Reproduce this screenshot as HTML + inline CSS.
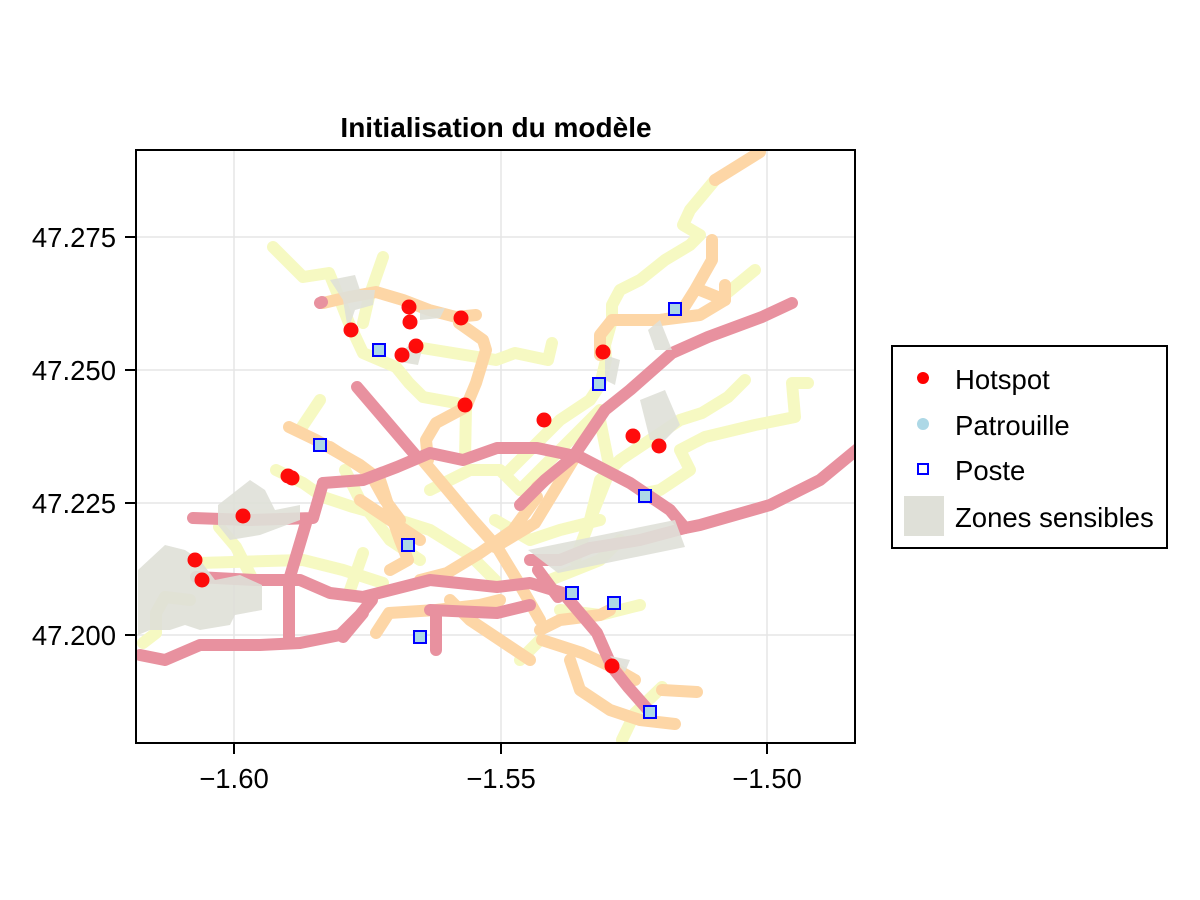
<!DOCTYPE html>
<html><head><meta charset="utf-8"><style>html,body{margin:0;padding:0;background:#fff}svg{display:block}</style></head>
<body>
<svg width="1200" height="900" viewBox="0 0 1200 900" xmlns="http://www.w3.org/2000/svg" font-family="Liberation Sans, sans-serif">
<rect width="1200" height="900" fill="#fff"/>
<text x="496" y="137" text-anchor="middle" font-size="28" font-weight="bold">Initialisation du modèle</text>
<defs><clipPath id="c"><rect x="136" y="150" width="719" height="593"/></clipPath></defs>
<g stroke="#e5e5e5" stroke-width="1.5">
<line x1="234" y1="150" x2="234" y2="743"/><line x1="501" y1="150" x2="501" y2="743"/><line x1="767" y1="150" x2="767" y2="743"/>
<line x1="136" y1="237" x2="855" y2="237"/><line x1="136" y1="370" x2="855" y2="370"/><line x1="136" y1="503" x2="855" y2="503"/><line x1="136" y1="635" x2="855" y2="635"/>
</g>
<g clip-path="url(#c)" fill="none" stroke-linecap="round" stroke-linejoin="round" stroke-width="12">
<g stroke="#f6f9c2">
<polyline points="715,180 690,210 683,225 700,235 690,245 665,260 640,280 620,290 612,305 612,320 605,345 606,360 600,385 590,400 560,420 540,440 510,470"/>
<polyline points="273,247 303,277 329,273 336,290 349,323 363,353 396,367 409,383 423,397 456,403 466,407 465,460"/>
<polyline points="383,257 376,277 369,297 363,323"/>
<polyline points="416,347 496,360 515,353 548,360 552,343"/>
<polyline points="808,383 792,383 795,417 755,425 705,437 680,450 690,470 660,490 645,493"/>
<polyline points="745,380 728,397 702,413 680,420 650,440 620,460 600,480 590,520"/>
<polyline points="727,293 755,270"/>
<polyline points="276,470 303,483 323,497 353,507 389,517 430,530 470,555 495,580"/>
<polyline points="199,563 303,560 343,570 383,583"/>
<polyline points="363,553 349,593"/>
<polyline points="143,643 156,633 156,613 165,597 190,600"/>
<polyline points="219,527 236,547 253,580"/>
<polyline points="345,470 360,500 390,540 420,560"/>
<polyline points="520,490 570,440 600,410"/>
<polyline points="600,420 610,470 590,520 575,560"/>
<polyline points="430,490 470,470 500,470 520,490"/>
<polyline points="495,520 530,540 560,530 600,520"/>
<polyline points="622,740 635,713 662,687"/>
<polyline points="560,610 600,615 640,605"/>
<polyline points="550,580 600,560 620,540"/>
<polyline points="520,660 540,640"/>
<polyline points="300,430 320,400"/>
</g>
<g stroke="#fdd6a6">
<polyline points="760,152 715,180"/>
<polyline points="712,240 712,260 695,290 678,317 660,320 620,320 612,320 600,335 600,355"/>
<polyline points="660,320 700,315 725,300 725,285"/>
<polyline points="700,290 725,300"/>
<polyline points="323,303 349,297 376,292 403,300 429,310 456,317 476,315"/>
<polyline points="459,323 483,340 486,350 476,383 466,407 436,423 426,440 428,460"/>
<polyline points="289,427 316,440 360,465 380,480 393,520 400,540 408,560 390,570"/>
<polyline points="330,447 370,473 385,500 400,520"/>
<polyline points="420,457 473,520 497,547 517,580 540,620"/>
<polyline points="537,497 513,530 480,553 447,573 420,580"/>
<polyline points="573,457 537,487"/>
<polyline points="376,633 389,613 436,610 480,605 500,600"/>
<polyline points="542,640 582,653 612,667 635,680"/>
<polyline points="570,660 580,690 610,710 640,720 675,724"/>
<polyline points="662,690 697,692"/>
<polyline points="540,630 560,620 600,615 610,610"/>
<polyline points="360,500 390,520 420,540"/>
<polyline points="450,600 470,620 500,640 530,660"/>
<polyline points="495,547 535,523 575,457"/>
</g>
<g stroke="#e8919f">
<polyline points="140,655 165,660 200,645 260,645 300,643 340,635 360,615 372,600"/>
<polyline points="306,523 289,580 289,637"/>
<polyline points="193,518 250,520 313,518 323,483"/>
<polyline points="323,483 363,480 397,467 430,453 463,460 497,448 537,448 580,457 630,483 670,510 685,528 700,525 770,505 820,480 860,447"/>
<polyline points="357,387 417,457"/>
<polyline points="196,577 255,580 300,580 330,593 363,597 430,580 497,587 530,583 563,593 597,633 612,667 628,687 650,712"/>
<polyline points="538,570 558,597"/>
<polyline points="430,610 497,613 530,605"/>
<polyline points="363,613 343,637"/>
<polyline points="436,615 436,650"/>
<polyline points="792,303 762,317 708,337 672,353 630,390 605,410 573,457 545,480 520,505"/>
<polyline points="530,560 560,560 590,548 640,540 685,528"/>
<polyline points="320,303 322,302"/>
</g>
<g fill="#dfe0d8" stroke="none" opacity="0.9">
<polygon points="138,570 165,545 185,550 200,560 215,580 240,575 262,585 262,610 235,615 230,625 200,630 185,625 170,630 150,630 138,635"/>
<polygon points="218,505 250,480 265,490 275,510 300,505 300,520 260,535 230,540 218,525"/>
<polygon points="330,280 355,275 360,290 375,290 373,305 355,310 348,330 343,300"/>
<polygon points="420,310 445,308 440,318 420,320"/>
<polygon points="396,355 410,345 422,350 418,365 400,362"/>
<polygon points="640,400 665,390 680,425 665,440 650,440"/>
<polygon points="648,330 660,320 672,350 655,350"/>
<polygon points="528,550 675,520 685,547 558,573"/>
<polygon points="605,355 620,360 615,385 605,380"/>
<polygon points="610,656 630,660 625,672"/>
</g>
</g>
<g fill="#ff0000" opacity="0.95">
<circle cx="351" cy="330" r="7.5"/><circle cx="409" cy="307" r="7.5"/><circle cx="410" cy="322" r="7.5"/><circle cx="416" cy="346" r="7.5"/><circle cx="402" cy="355" r="7.5"/><circle cx="461" cy="318" r="7.5"/><circle cx="465" cy="405" r="7.5"/><circle cx="544" cy="420" r="7.5"/><circle cx="603" cy="352" r="7.5"/><circle cx="633" cy="436" r="7.5"/><circle cx="659" cy="446" r="7.5"/><circle cx="292" cy="478" r="7.5"/><circle cx="288" cy="476" r="7.5"/><circle cx="243" cy="516" r="7.5"/><circle cx="195" cy="560" r="7.5"/><circle cx="202" cy="580" r="7.5"/><circle cx="612" cy="666" r="7.5"/>
</g>
<g fill="#add8e6" stroke="#0000ff" stroke-width="2">
<rect x="373" y="344" width="12" height="12"/><rect x="314" y="439" width="12" height="12"/><rect x="402" y="539" width="12" height="12"/><rect x="414" y="631" width="12" height="12"/><rect x="566" y="587" width="12" height="12"/><rect x="608" y="597" width="12" height="12"/><rect x="639" y="490" width="12" height="12"/><rect x="593" y="378" width="12" height="12"/><rect x="669" y="303" width="12" height="12"/><rect x="644" y="706" width="12" height="12"/>
</g>
<rect x="136" y="150" width="719" height="593" fill="none" stroke="#000" stroke-width="2"/>
<g stroke="#000" stroke-width="2">
<line x1="234" y1="743" x2="234" y2="754"/><line x1="501" y1="743" x2="501" y2="754"/><line x1="767" y1="743" x2="767" y2="754"/>
<line x1="125" y1="237" x2="136" y2="237"/><line x1="125" y1="370" x2="136" y2="370"/><line x1="125" y1="503" x2="136" y2="503"/><line x1="125" y1="635" x2="136" y2="635"/>
</g>
<g font-size="27.5" text-anchor="middle">
<text x="234" y="788">−1.60</text><text x="501" y="788">−1.55</text><text x="767" y="788">−1.50</text>
</g>
<g font-size="27.5" text-anchor="end">
<text x="116" y="247">47.275</text><text x="116" y="380">47.250</text><text x="116" y="513">47.225</text><text x="116" y="645">47.200</text>
</g>
<rect x="892" y="346" width="275" height="202" fill="#fff" stroke="#000" stroke-width="2"/>
<circle cx="923" cy="378" r="6" fill="#ff0000"/>
<circle cx="923" cy="424" r="6" fill="#add8e6"/>
<rect x="918" y="464" width="10" height="10" fill="none" stroke="#0000ff" stroke-width="2"/>
<rect x="904" y="496" width="40" height="40" fill="#dfe0d8"/>
<g font-size="27.5">
<text x="955" y="389">Hotspot</text><text x="955" y="435">Patrouille</text><text x="955" y="480">Poste</text><text x="955" y="527">Zones sensibles</text>
</g>
</svg>
</body></html>
